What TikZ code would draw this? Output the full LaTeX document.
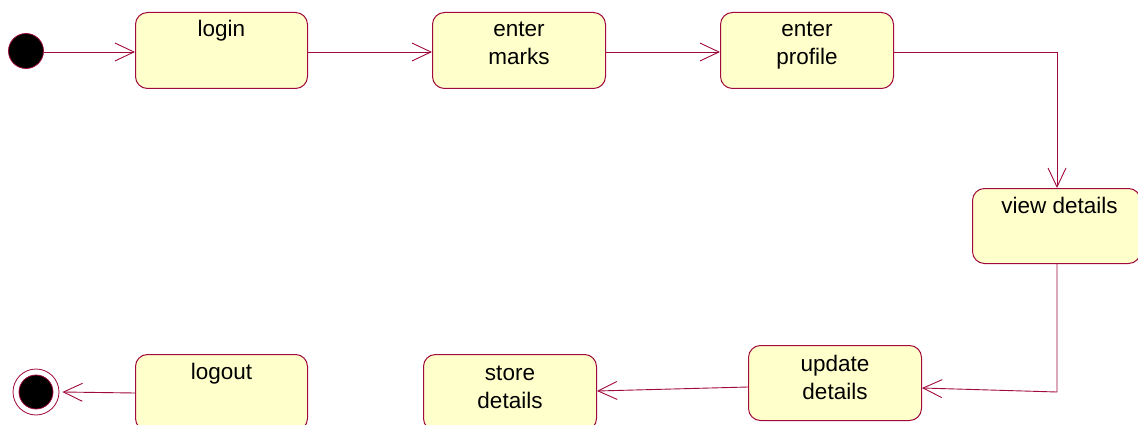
\documentclass[tikz,border=0pt]{standalone}
\usepackage{fontspec}
\setmainfont{Liberation Sans}
\usetikzlibrary{arrows.meta,calc}
\definecolor{umlred}{RGB}{160,10,60}
\definecolor{umlfill}{RGB}{255,255,204}
\begin{document}
\begin{tikzpicture}[x=1pt,y=-1pt,
  state/.style={draw=umlred,fill=umlfill,rounded corners=12pt,line width=1pt,inner sep=0pt,anchor=north west},
  lbl/.style={anchor=base,inner sep=0pt,font=\fontsize{22.5}{27}\selectfont},
  arr/.style={draw=umlred,line width=0.9pt,-{Straight Barb[length=19pt,width=18pt,line width=0.9pt]}},
  con/.style={draw=umlred,line width=0.9pt}]
\useasboundingbox (0,0) rectangle (1138,425);
\clip (0,0) rectangle (1138,425);
% states
\node[state,minimum width=172pt,minimum height=76pt] (login) at (135,12) {};
\node[state,minimum width=173pt,minimum height=76pt] (marks) at (432,12) {};
\node[state,minimum width=173pt,minimum height=76pt] (profile) at (720,12) {};
\node[state,minimum width=168pt,minimum height=75pt] (view) at (972,188) {};
\node[state,minimum width=173pt,minimum height=75pt] (update) at (748,345) {};
\node[state,minimum width=173pt,minimum height=76pt] (store) at (423,354) {};
\node[state,minimum width=172pt,minimum height=76pt] (logout) at (135,354) {};
% labels
\node[lbl] (tlogin) at ($(login.north)+(0,25)$) {login};
\node[lbl] (tmarks1) at ($(marks.north)+(0,25)$) {enter};
\node[lbl] (tmarks2) at ($(marks.north)+(0,53)$) {marks};
\node[lbl] (tprof1) at ($(profile.north)+(0,25)$) {enter};
\node[lbl] (tprof2) at ($(profile.north)+(0,53)$) {profile};
\node[lbl] (tview) at ($(view.north)+(3,25)$) {view details};
\node[lbl] (tupd1) at ($(update.north)+(0,26)$) {update};
\node[lbl] (tupd2) at ($(update.north)+(0,54)$) {details};
\node[lbl] (tstore1) at ($(store.north)+(0,26)$) {store};
\node[lbl] (tstore2) at ($(store.north)+(0,54)$) {details};
\node[lbl] (tlogout) at ($(logout.north)+(0,25)$) {logout};
% initial and final
\node[circle,draw=umlred,fill=black,line width=0.8pt,minimum size=35pt,inner sep=0pt] (init) at (26,51) {};
\node[circle,draw=umlred,fill=white,line width=0.8pt,minimum size=46pt,inner sep=0pt] (final) at (36,392) {};
\node[circle,draw=umlred,fill=black,line width=0.8pt,minimum size=34pt,inner sep=0pt] (finalin) at (36,392) {};
% connectors
\coordinate (c1) at (1057,52);
\coordinate (c2) at (1057,392);
\draw[arr] (init.east |- 0,52) -- (login.west |- 0,52);
\draw[arr] (login.east |- 0,52) -- (marks.west |- 0,52);
\draw[arr] (marks.east |- 0,52) -- (profile.west |- 0,52);
\draw[arr] (profile.east |- c1) -- (c1) -- (c1 |- view.north);
\draw[arr] (c2 |- view.south) -- (c2) -- (update.east |- 0,388);
\draw[arr] (update.west |- 0,387) -- (store.east |- 0,391);
\draw[arr] (logout.west |- 0,393) -- ($(final.east)+(3,0)$);
\end{tikzpicture}
\end{document}
